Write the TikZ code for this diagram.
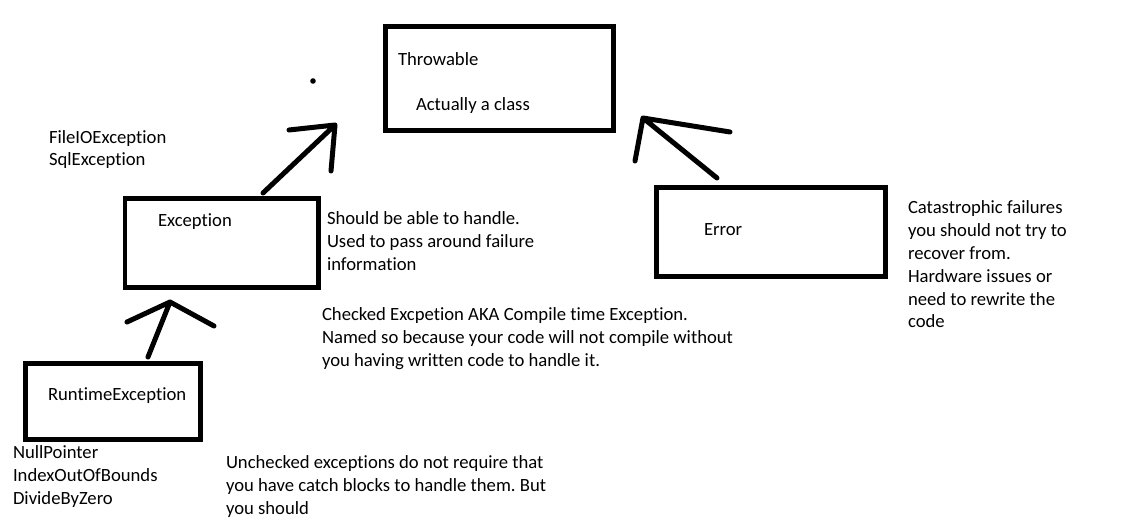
\documentclass[tikz,border=0pt]{standalone}
\usepackage{fontspec}
\setmainfont[Ligatures=NoCommon]{Carlito}
\frenchspacing
\begin{document}
\begin{tikzpicture}
  [x=1pt,y=-1pt,every node/.style={inner sep=0pt,outer sep=0pt,font=\fontsize{18.67}{22.8}\selectfont}]
  \tikzstyle{box} = [draw,line width=4.8pt,shape=rectangle]
  \tikzstyle{note} = [anchor=base west,align=left]
  \tikzstyle{stroke} = [line width=5pt,line cap=round,line join=round]
  \useasboundingbox (0,0) rectangle (1136,526);

  % boxes
  \node[box,minimum width=228pt,minimum height=104pt] (throwable) at (499.5,78.5) {};
  \node[box,minimum width=193.6pt,minimum height=89.2pt] (exception) at (221.8,243) {};
  \node[box,minimum width=229.2pt,minimum height=89.2pt] (error) at (771,232) {};
  \node[box,minimum width=175.2pt,minimum height=76.2pt] (runtime) at (113,401.5) {};

  % texts (multi-line notes sit on their last line)
  \node[note] (throwname) at (398,66) {Throwable};
  \node[note] (throwclass) at (416,111) {Actually a class};
  \node[note] (excname) at (158,227) {Exception};
  \node[note] (checkedlist) at (49,166) {FileIOException\\SqlException};
  \node[note] (handle) at (327,270.6) {Should be able to handle.\\Used to pass around failure\\information};
  \node[note] (errname) at (704,236) {Error};
  \node[note] (catas) at (908,328) {Catastrophic failures\\you should not try to\\recover from.\\Hardware issues or\\need to rewrite the\\code};
  \node[note] (checked) at (322,366.6) {Checked Excpetion AKA Compile time Exception.\\Named so because your code will not compile without\\you having written code to handle it.};
  \node[note] (runname) at (48,401) {RuntimeException};
  \node[note] (uncheckedlist) at (13,504.6) {NullPointer\\IndexOutOfBounds\\DivideByZero};
  \node[note] (unchecked) at (226,514.6) {Unchecked exceptions do not require that\\you have catch blocks to handle them. But\\you should};

  % arrow ends
  \coordinate (exctail) at (263,193);
  \coordinate (exctip) at (335,125);
  \coordinate (excl) at (289,130);
  \coordinate (excr) at (331,171);
  \coordinate (errtail) at (717,178);
  \coordinate (errtip) at (643,118);
  \coordinate (errl) at (635,161);
  \coordinate (errr) at (730,132);
  \coordinate (runtail) at (148,357);
  \coordinate (runtip) at (170,302);
  \coordinate (runl) at (127,322);
  \coordinate (runr) at (214,326);

\foreach \tail /\tip /\left /\right in {exctail/exctip/excl/excr,errtail/errtip/errl/errr,runtail/runtip/runl/runr}
   \draw[stroke] (\tail) -- (\tip) (\left) -- (\tip) -- (\right);

  \fill (313,81) circle (2.8);
  \end{tikzpicture}
\end{document}
